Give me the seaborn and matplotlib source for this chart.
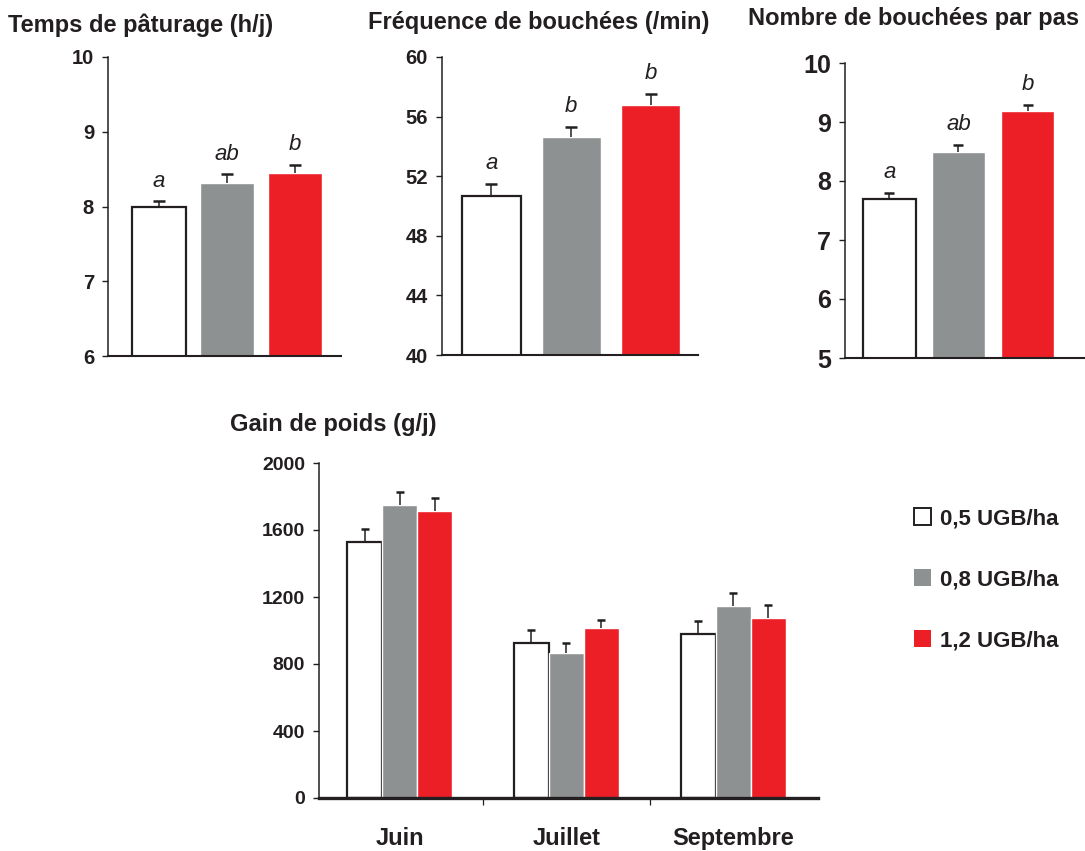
import numpy as np
import pandas as pd
import matplotlib
matplotlib.use("Agg")
import matplotlib.pyplot as plt
from matplotlib.patches import Patch
import seaborn as sns

# ---- data -------------------------------------------------------------
charges = ["0,5 UGB/ha", "0,8 UGB/ha", "1,2 UGB/ha"]

temps_mean = [8.00, 8.31, 8.45]
temps_se = [0.07, 0.12, 0.11]
temps_letters = ["a", "ab", "b"]

freq_mean = [50.7, 54.6, 56.8]
freq_se = [0.8, 0.7, 0.75]
freq_letters = ["a", "b", "b"]

nombre_mean = [7.69, 8.49, 9.19]
nombre_se = [0.11, 0.12, 0.10]
nombre_letters = ["a", "ab", "b"]

mois = ["Juin", "Juillet", "Septembre"]
gain_05 = [1528, 925, 979]
gain_05_se = [78, 78, 78]
gain_08 = [1749, 866, 1146]
gain_08_se = [78, 59, 78]
gain_12 = [1713, 1015, 1075]
gain_12_se = [78, 48, 77]

# ---- style ------------------------------------------------------------
INK = "#231f20"
GRAY = "#8e9192"
RED = "#ec1f27"
palette = {charges[0]: "white", charges[1]: GRAY, charges[2]: RED}

sns.set_style("ticks")
plt.rcParams["font.family"] = ["Liberation Sans", "DejaVu Sans"]
plt.rcParams["text.color"] = INK
plt.rcParams["axes.edgecolor"] = INK
plt.rcParams["xtick.color"] = INK
plt.rcParams["ytick.color"] = INK

fig = plt.figure(figsize=(10.85, 8.51), dpi=100)
W, H = 1085.0, 851.0


def px_axes(x0, y0, x1, y1):
    return fig.add_axes([x0 / W, 1 - y1 / H, (x1 - x0) / W, (y1 - y0) / H])


def up_errors(ax, xs, mean, se, cap, lw=1.1):
    mean = np.asarray(mean, float)
    se = np.asarray(se, float)
    ax.errorbar(xs, mean, yerr=[np.zeros_like(se), se], fmt="none",
                ecolor=INK, elinewidth=lw, capsize=0, zorder=3)
    ax.plot(xs, mean + se, ls="none", marker="_", ms=cap, mew=1.8,
            color=INK, zorder=3)


def style_axis(ax, yticks, tick_size, left_lw=1.1, bottom_lw=1.5):
    sns.despine(ax=ax)
    ax.spines["left"].set_linewidth(left_lw)
    ax.spines["bottom"].set_linewidth(bottom_lw)
    ax.set_yticks(yticks)
    ax.set_yticklabels([str(t) for t in yticks], fontsize=tick_size,
                       fontweight="bold")
    ax.tick_params(axis="y", length=4.5, width=1.0, pad=5.5)
    ax.set_xlabel("")
    ax.set_ylabel("")


def top_panel(box, mean, se, letters, ylim, yticks, width, xlim,
              tick_size, cap, title, title_xy):
    ax = px_axes(*box)
    df = pd.DataFrame({"charge": charges, "valeur": mean})
    sns.barplot(data=df, x="charge", y="valeur", hue="charge",
                palette=palette, width=width, errorbar=None, saturation=1,
                legend=False, ax=ax, zorder=2)
    bars = list(ax.patches)
    bars[0].set_edgecolor(INK)
    bars[0].set_linewidth(1.6)
    xs = [b.get_x() + b.get_width() / 2 for b in bars]
    up_errors(ax, xs, mean, se, cap)
    for x, m, s, lab in zip(xs, mean, se, letters):
        ax.annotate(lab, (x, m + s), xytext=(0, 7), textcoords="offset points",
                    ha="center", va="bottom", fontsize=16, style="italic",
                    color=INK)
    ax.set_ylim(*ylim)
    ax.set_xlim(*xlim)
    style_axis(ax, yticks, tick_size)
    ax.set_xticks([])
    fig.text(title_xy[0] / W, 1 - title_xy[1] / H, title, fontsize=17,
             fontweight="bold", ha="left", va="baseline")
    return ax


top_panel((108, 57, 341, 356), temps_mean, temps_se, temps_letters,
          (6, 10), [6, 7, 8, 9, 10], 0.8, (-0.75, 2.68), 14.5, 8.5,
          "Temps de pâturage (h/j)", (8, 32))
top_panel((442, 57, 698, 355), freq_mean, freq_se, freq_letters,
          (40, 60), [40, 44, 48, 52, 56, 60], 0.74, (-0.62, 2.59), 14.5, 8,
          "Fréquence de bouchées (/min)", (368, 29))
top_panel((845, 63, 1085, 358), nombre_mean, nombre_se, nombre_letters,
          (5, 10), [5, 6, 7, 8, 9, 10], 0.77, (-0.64, 2.83), 18, 7.5,
          "Nombre de bouchées par pas", (748, 25))

# ---- weight gain by month -------------------------------------------
ax = px_axes(319, 463, 818, 798)
gain = pd.DataFrame({
    "mois": mois * 3,
    "charge": [charges[0]] * 3 + [charges[1]] * 3 + [charges[2]] * 3,
    "gain": gain_05 + gain_08 + gain_12,
})
sns.barplot(data=gain, x="mois", y="gain", hue="charge", hue_order=charges,
            palette=palette, width=0.63, errorbar=None, saturation=1,
            legend=False, ax=ax, zorder=2)
for b in ax.containers[0]:
    b.set_edgecolor(INK)
    b.set_linewidth(1.6)
for cont, m, s in zip(ax.containers,
                      [gain_05, gain_08, gain_12],
                      [gain_05_se, gain_08_se, gain_12_se]):
    xs = [b.get_x() + b.get_width() / 2 for b in cont]
    up_errors(ax, xs, m, s, 5.5)
ax.set_ylim(0, 2000)
ax.set_xlim(-0.485, 2.51)
style_axis(ax, [0, 400, 800, 1200, 1600, 2000], 14, left_lw=1.1,
           bottom_lw=2.4)
ax.set_xticks([0.5, 1.5])
ax.set_xticklabels(["", ""])
ax.tick_params(axis="x", which="major", length=5, width=0.9, direction="out")
ax.set_xticks(range(len(mois)), minor=True)
ax.set_xticklabels(mois, minor=True, fontsize=17, fontweight="bold")
ax.tick_params(axis="x", which="minor", length=0, pad=21)
fig.text(230 / W, 1 - 431 / H, "Gain de poids (g/j)", fontsize=17,
         fontweight="bold", ha="left", va="baseline")

# ---- legend -------------------------------------------------------------
handles = [Patch(facecolor="white", edgecolor=INK, linewidth=1.4),
           Patch(facecolor=GRAY, edgecolor="none"),
           Patch(facecolor=RED, edgecolor="none")]
fig.legend(handles, charges, loc="upper left",
           bbox_to_anchor=(914 / W, 1 - 508 / H), frameon=False,
           prop={"size": 16, "weight": "bold"}, handlelength=0.78,
           handleheight=0.78, handletextpad=0.4, labelspacing=1.8,
           borderpad=0, borderaxespad=0)

fig.savefig("out.png", dpi=100, facecolor="white")
